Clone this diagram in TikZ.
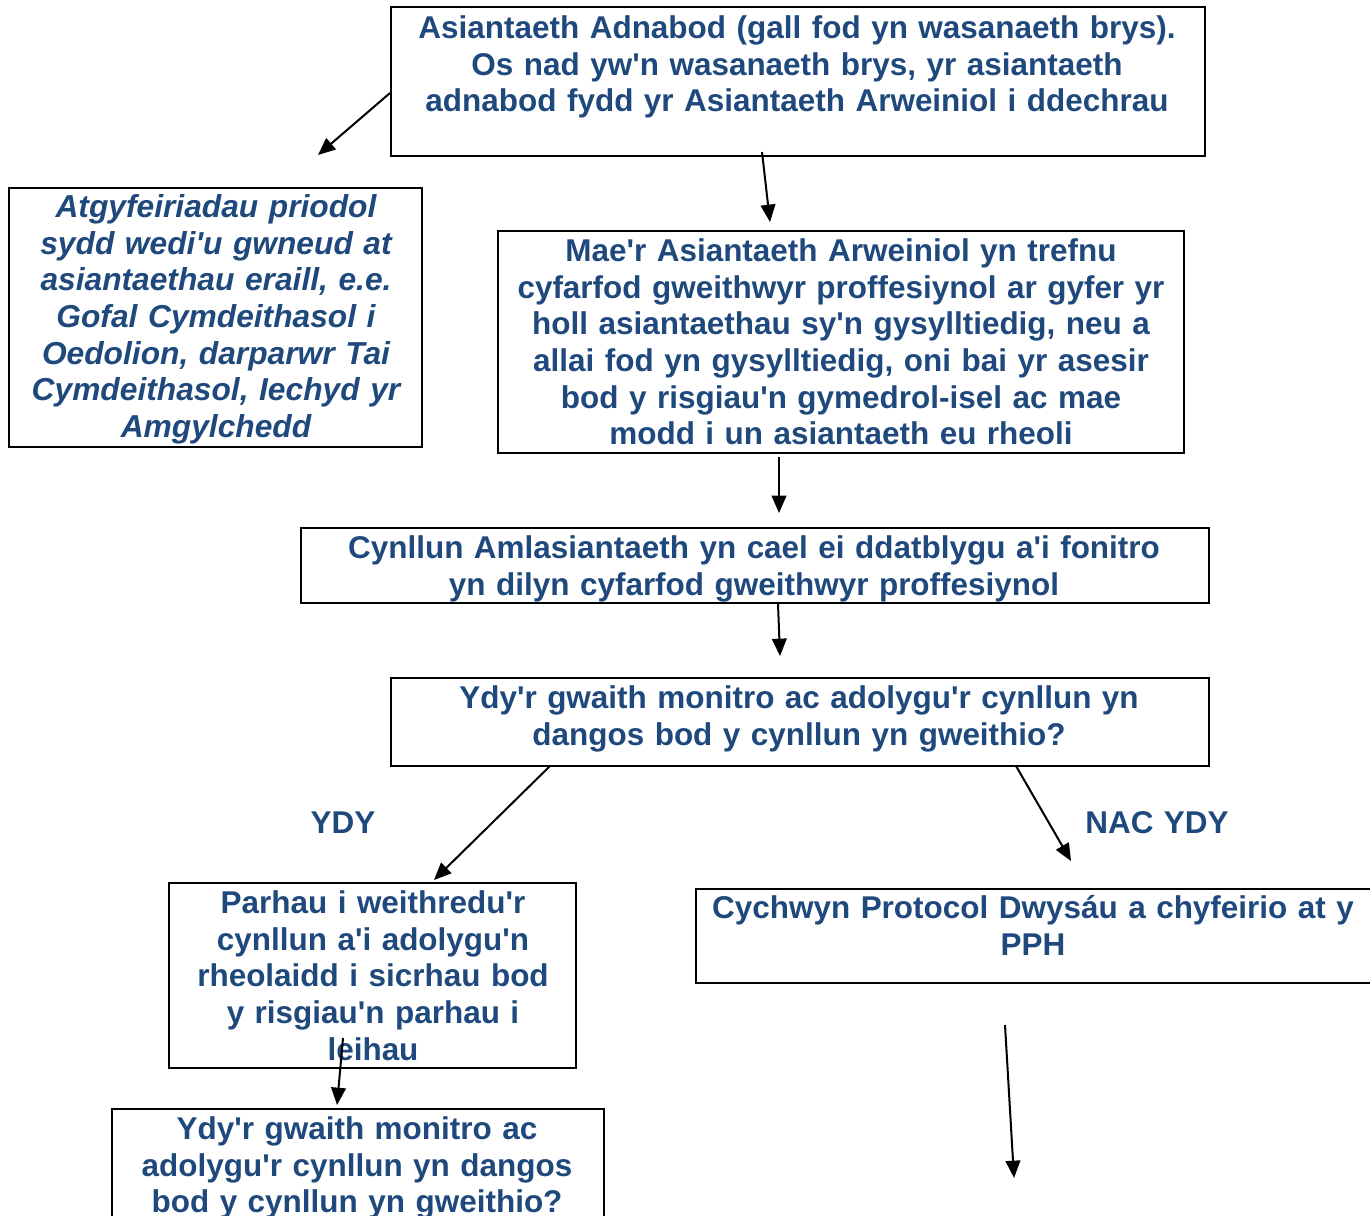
\documentclass[tikz,border=0pt]{standalone}
\usepackage{fontspec}
\setmainfont{Liberation Sans}[Ligatures=TeXOff]
\usetikzlibrary{arrows.meta}
\definecolor{txtblue}{RGB}{31,73,125}
\begin{document}
\begin{tikzpicture}[x=0.75pt,y=-0.75pt,
  frame/.style={draw=black, line width=1.5pt, anchor=north west, inner sep=0pt},
  txt/.style={text=txtblue, font=\bfseries\fontsize{23.6}{27.5}\selectfont, align=center, text width=740pt, inner sep=0pt, anchor=base},
  itxt/.style={txt, font=\bfseries\itshape\fontsize{23.8}{27.5}\selectfont},
  arr/.style={line width=1.5pt, -{Triangle[length=13pt,width=11pt]}}]
\useasboundingbox (0,0) rectangle (1370,1216);
% boxes
\node[frame, minimum width=610.5pt, minimum height=111.75pt] (b1) at (390,6) {};
\node[frame, minimum width=309.75pt, minimum height=194.25pt] (b2) at (8,187) {};
\node[frame, minimum width=514.5pt, minimum height=166.5pt] (b3) at (497,230) {};
\node[frame, minimum width=681pt, minimum height=56.25pt] (b4) at (300,527) {};
\node[frame, minimum width=613.5pt, minimum height=66pt] (b5) at (390,677) {};
\node[frame, minimum width=305.25pt, minimum height=138.75pt] (b6) at (168,882) {};
\node[frame, minimum width=507pt, minimum height=70.5pt] (b7) at (695,888) {};
\node[frame, minimum width=369pt, minimum height=97.5pt] (b8) at (111,1108) {};
% texts
\node[txt] (t1) at (797,38.5) {Asiantaeth Adnabod (gall fod yn wasanaeth brys).\\Os nad yw'n wasanaeth brys, yr asiantaeth\\adnabod fydd yr Asiantaeth Arweiniol i ddechrau};
\node[itxt] (t2) at (216,217.5) {Atgyfeiriadau priodol\\sydd wedi'u gwneud at\\asiantaethau eraill, e.e.\\Gofal Cymdeithasol i\\Oedolion, darparwr Tai\\Cymdeithasol, Iechyd yr\\Amgylchedd};
\node[txt] (t3) at (841,261.5) {Mae'r Asiantaeth Arweiniol yn trefnu\\cyfarfod gweithwyr proffesiynol ar gyfer yr\\holl asiantaethau sy'n gysylltiedig, neu a\\allai fod yn gysylltiedig, oni bai yr asesir\\bod y risgiau'n gymedrol-isel ac mae\\modd i un asiantaeth eu rheoli};
\node[txt] (t4) at (754,558.5) {Cynllun Amlasiantaeth yn cael ei ddatblygu a'i fonitro\\yn dilyn cyfarfod gweithwyr proffesiynol};
\node[txt] (t5) at (799,708.5) {Ydy'r gwaith monitro ac adolygu'r cynllun yn\\dangos bod y cynllun yn gweithio?};
\node[txt] (t6) at (373,913.5) {Parhau i weithredu'r\\cynllun a'i adolygu'n\\rheolaidd i sicrhau bod\\y risgiau'n parhau i\\leihau};
\node[txt] (t7) at (1033,918.5) {Cychwyn Protocol Dwysáu a chyfeirio at y\\PPH};
\node[txt] (t8) at (357,1139.5) {Ydy'r gwaith monitro ac\\adolygu'r cynllun yn dangos\\bod y cynllun yn gweithio?};
\node[txt] (l1) at (343,833) {YDY};
\node[txt] (l2) at (1157,833) {NAC YDY};
% arrow end points
\coordinate (a1s) at (390,93);  \coordinate (a1e) at (318,155);
\coordinate (a2s) at (762,152); \coordinate (a2e) at (770,222);
\coordinate (a3s) at (779,457); \coordinate (a3e) at (779,513);
\coordinate (a4s) at (778,604); \coordinate (a4e) at (780,656);
\coordinate (a5s) at (550,766); \coordinate (a5e) at (434,880);
\coordinate (a6s) at (1016,766); \coordinate (a6e) at (1071,861);
\coordinate (a7s) at (343,1038); \coordinate (a7e) at (337,1105);
\coordinate (a8s) at (1005,1025); \coordinate (a8e) at (1014,1178);
\foreach \i in {1,...,8} \draw[arr] (a\i s) -- (a\i e);
\end{tikzpicture}
\end{document}
